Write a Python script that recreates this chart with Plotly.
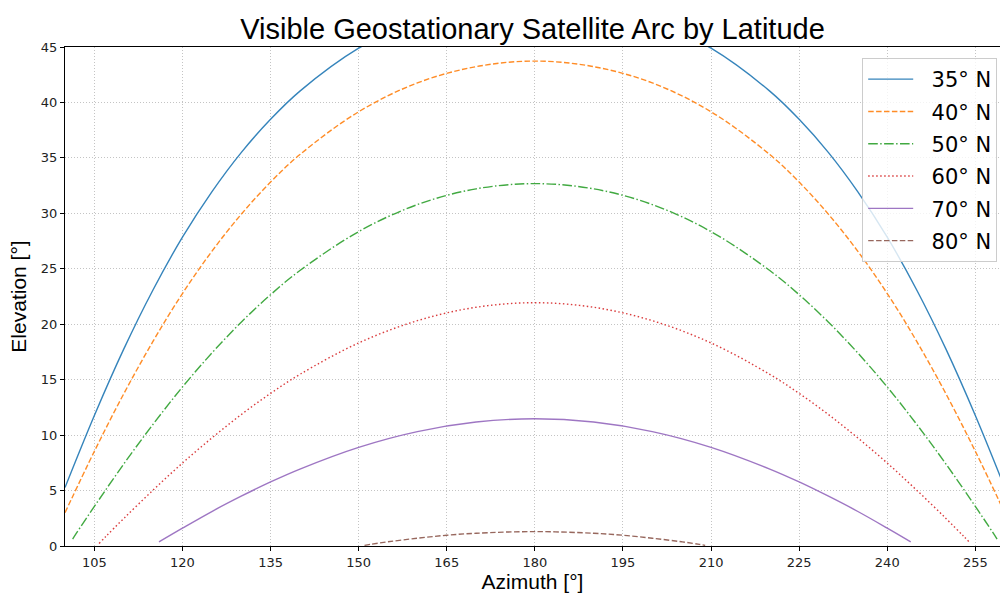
import plotly.graph_objects as go

# ---- data ----
labels = ["35° N", "40° N", "50° N", "60° N", "70° N", "80° N"]

az_35 = [100, 105, 110, 115, 120, 125, 130, 135, 140, 150, 160, 170, 180,
         190, 200, 210, 220, 225, 230, 235, 240, 245, 250, 255, 260]
el_35 = [5.27, 11.77, 17.75, 23.11, 27.85, 31.94, 35.48, 38.48, 41.02, 44.89, 47.44, 48.88, 49.35,
         48.88, 47.44, 44.89, 41.02, 38.48, 35.48, 31.94, 27.85, 23.11, 17.75, 11.77, 5.27]

az_40 = [100, 105, 110, 115, 120, 125, 130, 135, 140, 150, 160, 170, 180,
         190, 200, 210, 220, 225, 230, 235, 240, 245, 250, 255, 260]
el_40 = [3.00, 8.54, 13.72, 18.47, 22.77, 26.57, 29.91, 32.82, 35.30, 39.16, 41.76, 43.23, 43.73,
         43.23, 41.76, 39.16, 35.30, 32.82, 29.91, 26.57, 22.77, 18.47, 13.72, 8.54, 3.00]

az_50 = [101.3, 102, 105, 110, 115, 120, 125, 130, 135, 140, 150, 160, 170, 180,
         190, 200, 210, 220, 225, 230, 235, 240, 245, 250, 255, 258, 258.7]
el_50 = [0.63, 1.20, 3.57, 7.39, 10.98, 14.34, 17.40, 20.18, 22.66, 24.84, 28.35, 30.79, 32.21, 32.68,
         32.21, 30.79, 28.35, 24.84, 22.66, 20.18, 17.40, 14.34, 10.98, 7.39, 3.57, 1.20, 0.63]

az_60 = [105.8, 107, 110, 115, 120, 125, 130, 135, 140, 150, 160, 170, 180,
         190, 200, 210, 220, 225, 230, 235, 240, 245, 250, 253, 254.2]
el_60 = [0.23, 0.88, 2.48, 5.04, 7.48, 9.74, 11.85, 13.76, 15.48, 18.31, 20.32, 21.53, 21.94,
         21.53, 20.32, 18.31, 15.48, 13.76, 11.85, 9.74, 7.48, 5.04, 2.48, 0.88, 0.23]

az_70 = [116, 120, 125, 130, 135, 140, 150, 160, 170, 180,
         190, 200, 210, 220, 225, 230, 235, 240, 244]
el_70 = [0.37, 1.61, 3.11, 4.49, 5.78, 6.94, 8.90, 10.32, 11.18, 11.47,
         11.18, 10.32, 8.90, 6.94, 5.78, 4.49, 3.11, 1.61, 0.37]

az_80 = [151, 152, 155, 160, 165, 170, 180, 190, 195, 200, 205, 208, 209]
el_80 = [0.06, 0.15, 0.38, 0.70, 0.97, 1.15, 1.30, 1.15, 0.97, 0.70, 0.38, 0.15, 0.06]

x_ticks = [105, 120, 135, 150, 165, 180, 195, 210, 225, 240, 255]
y_ticks = [0, 5, 10, 15, 20, 25, 30, 35, 40, 45]

series = [
    (az_35, el_35, "rgba(31,119,180,0.9)", "solid"),
    (az_40, el_40, "rgba(255,127,14,0.9)", "5.5px,2.4px"),
    (az_50, el_50, "rgba(44,160,44,0.9)", "9.6px,2.4px,1.5px,2.4px"),
    (az_60, el_60, "rgba(214,39,40,0.9)", "1.5px,2.5px"),
    (az_70, el_70, "rgba(148,103,189,0.9)", "solid"),
    (az_80, el_80, "rgba(140,86,75,0.9)", "5.5px,2.4px"),
]

fig = go.Figure()
for lab, (xs, ys, col, dash) in zip(labels, series):
    fig.add_trace(go.Scatter(
        x=xs, y=ys, mode="lines", name="\u00a0\u00a0" + lab, legendgroup=lab,
        line=dict(color=col, width=1.4, dash=dash, shape="spline", smoothing=1.0),
    ))

font_main = "DejaVu Sans"
fig.update_layout(
    width=1000, height=597,
    margin=dict(l=65, r=0, t=47, b=51, autoexpand=False),
    paper_bgcolor="white", plot_bgcolor="white",
    title=dict(text="Visible Geostationary Satellite Arc by Latitude",
               font=dict(family="Liberation Sans", size=29, color="black"),
               x=0.5, xref="paper", xanchor="center",
               y=1 - 29 / 597, yref="container", yanchor="middle", automargin=False),
    legend=dict(x=0.997, xanchor="right", y=0.978, yanchor="top",
                font=dict(family=font_main, size=21, color="black"),
                bgcolor="rgba(255,255,255,0.8)", bordercolor="#cccccc", borderwidth=1,
                tracegroupgap=2, itemwidth=45),
    showlegend=True,
)
fig.update_xaxes(
    range=[100, 259.2], tickmode="array", tickvals=x_ticks,
    ticks="outside", ticklen=4, tickcolor="black",
    tickfont=dict(family=font_main, size=13, color="#222"),
    showline=True, linecolor="black", linewidth=1.2, mirror=True,
    showgrid=True, gridcolor="#c4c4c4", griddash="1px,2px", gridwidth=0.9,
    zeroline=False, automargin=False,
    title=dict(text="Azimuth [°]", font=dict(family="Liberation Sans", size=21, color="black"), standoff=5),
)
fig.update_yaxes(
    range=[0, 45], tickmode="array", tickvals=y_ticks,
    ticks="outside", ticklen=4, tickcolor="black",
    tickfont=dict(family=font_main, size=13, color="#222"),
    showline=True, linecolor="black", linewidth=1.2, mirror=False,
    showgrid=True, gridcolor="#c4c4c4", griddash="1px,2px", gridwidth=0.9,
    zeroline=False, automargin=False,
    title=dict(text="Elevation [°]", font=dict(family="Liberation Sans", size=21, color="black"), standoff=8),
)

fig.write_html(
    "out.html",
    config={"displayModeBar": False},
    post_script="document.body.style.margin='0';document.body.style.overflow='hidden';",
)
